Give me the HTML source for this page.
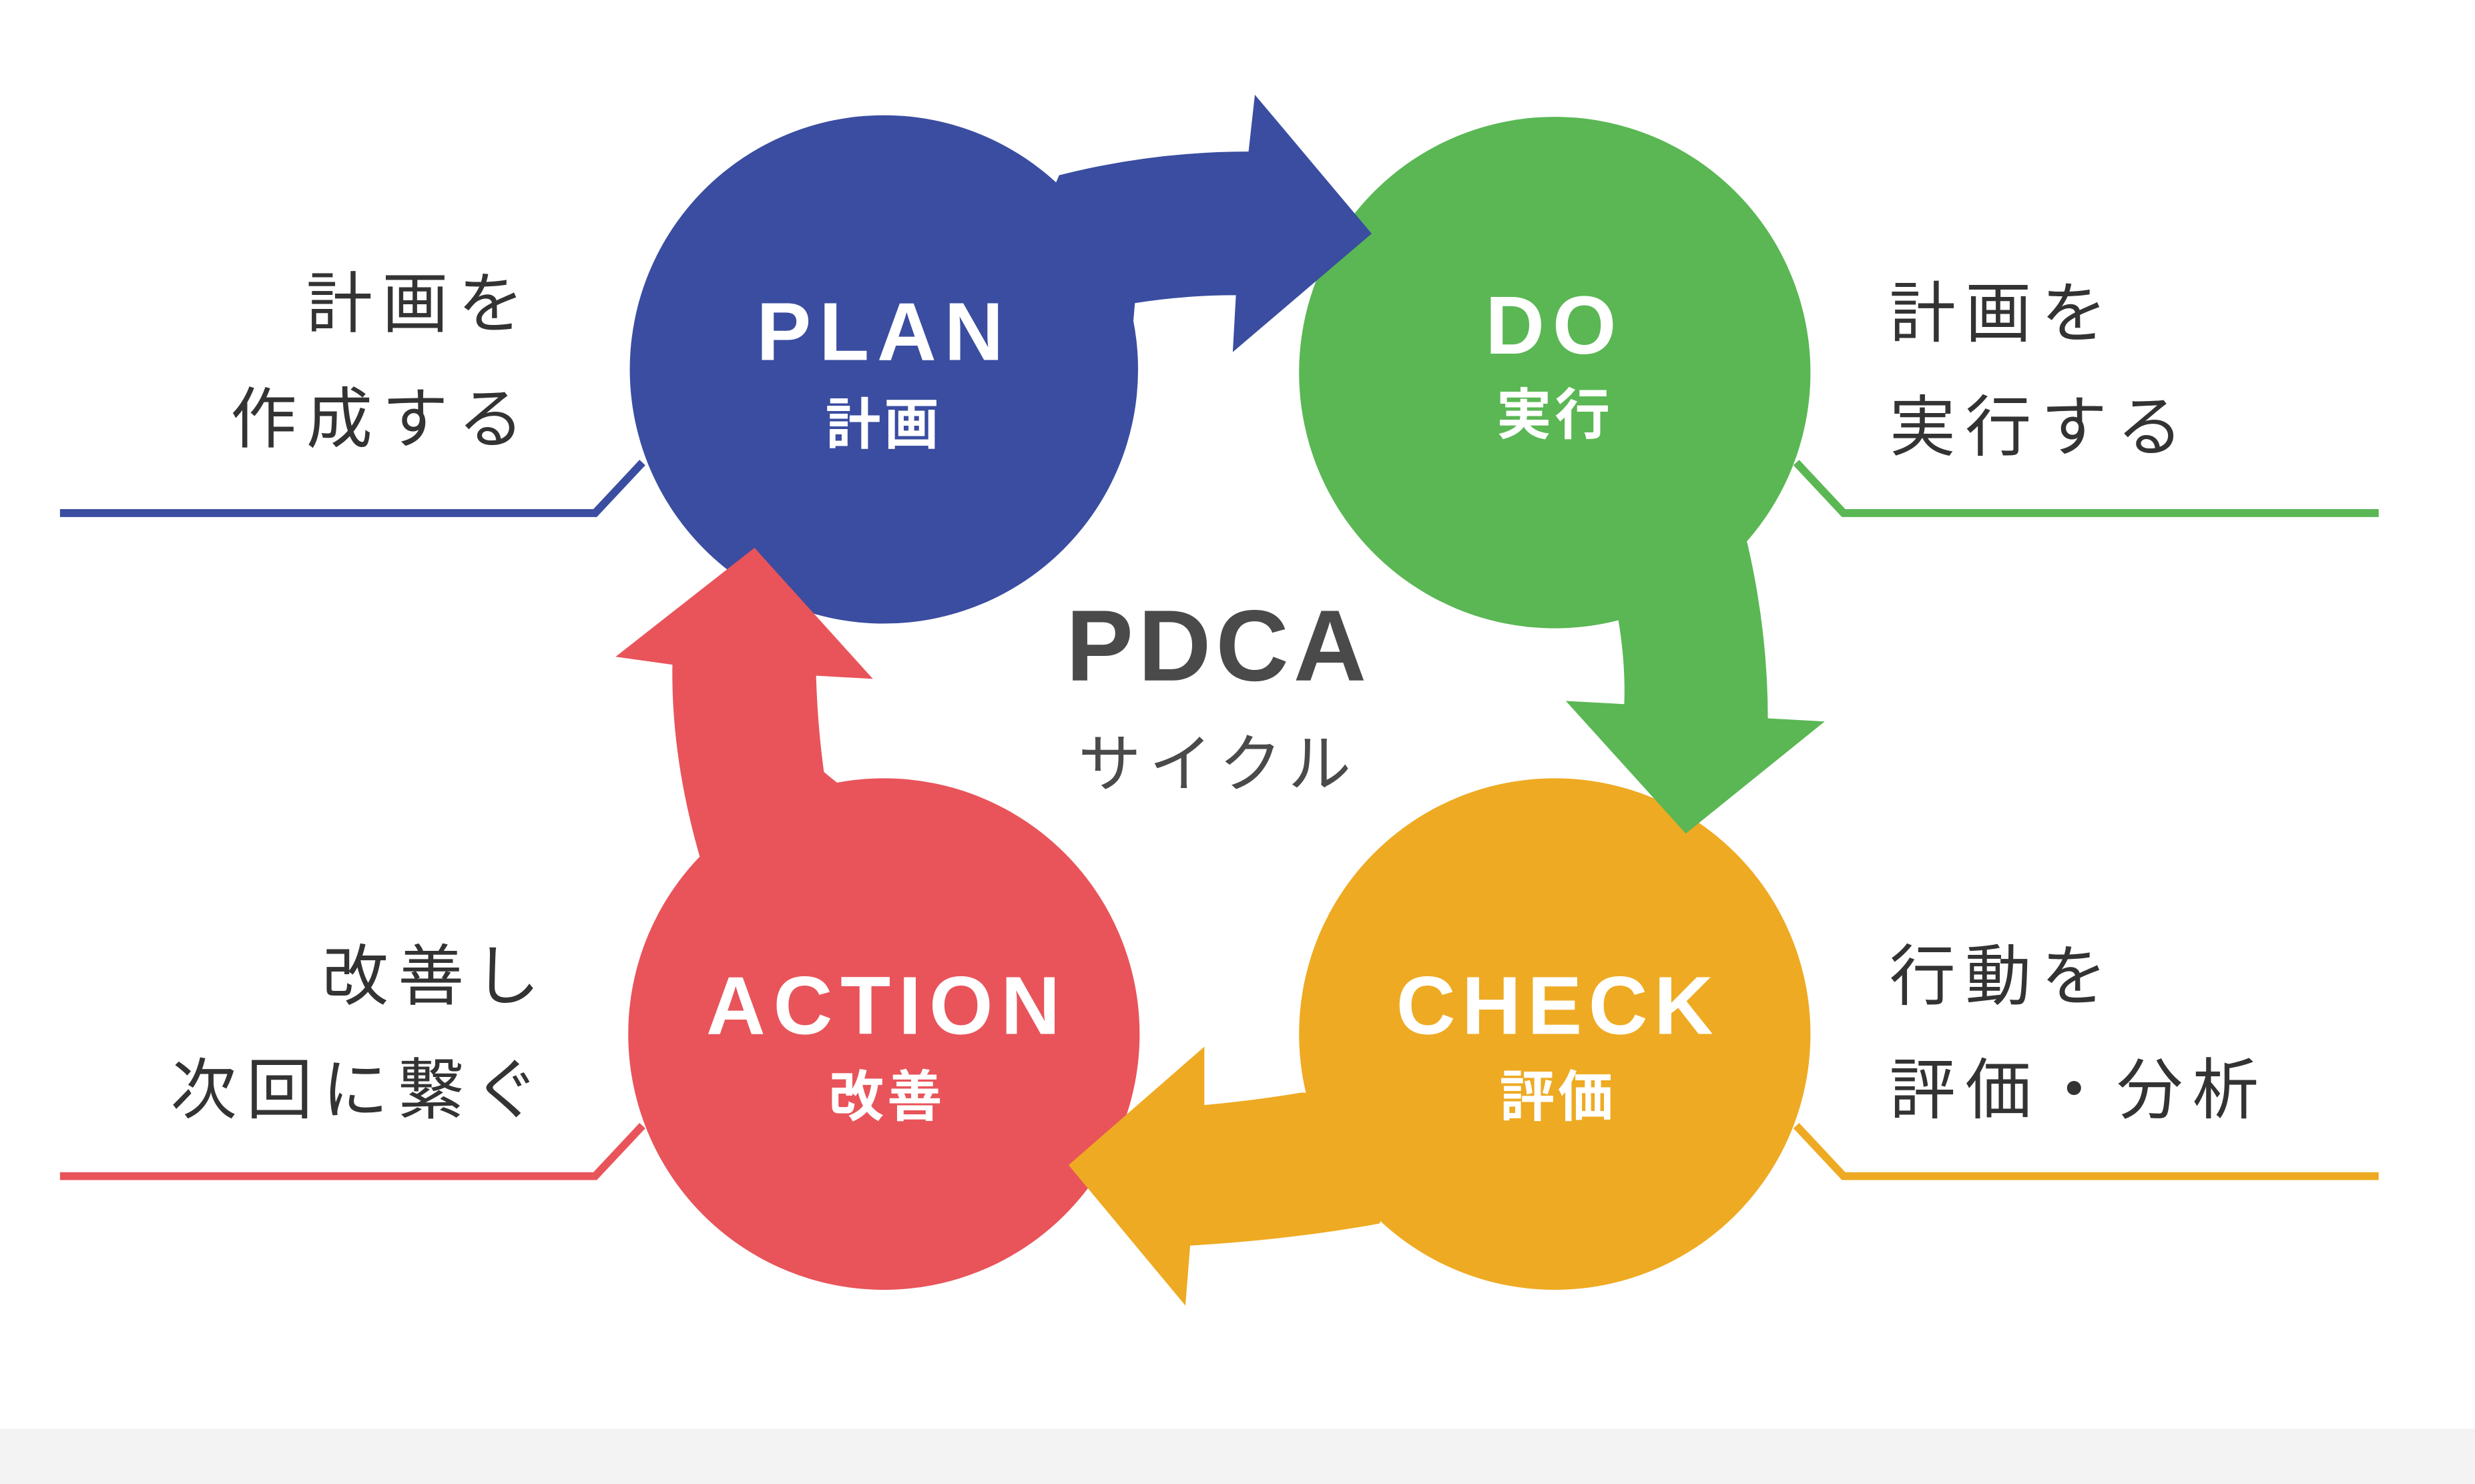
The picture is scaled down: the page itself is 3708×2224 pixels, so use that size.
<!DOCTYPE html>
<html><head><meta charset="utf-8"><style>
html,body{margin:0;padding:0;background:#fff;}
svg{display:block;}
.jp{font-family:"Liberation Sans","Noto Sans CJK JP",sans-serif;}
</style></head><body>
<svg width="3708" height="2224" viewBox="0 0 1568 940" preserveAspectRatio="none" xmlns="http://www.w3.org/2000/svg">
<rect x="0" y="0" width="1568" height="940" fill="#fff"/>
<rect x="0" y="905" width="1568" height="35" fill="#f3f3f3"/>
<g fill="none" stroke-width="5">
<polyline points="38,325 377,325 407,293" stroke="#3a4da0"/>
<polyline points="1138,293 1168,325 1507,325" stroke="#5ab754"/>
<polyline points="38,745 377,745 407,713" stroke="#e8545a"/>
<polyline points="1138,713 1168,745 1507,745" stroke="#eeaa22"/>
</g>
<circle cx="560" cy="234" r="161" fill="#3a4da0"/>
<circle cx="985" cy="236" r="162" fill="#5ab754"/>
<circle cx="560" cy="655" r="162" fill="#e8545a"/>
<circle cx="985" cy="655" r="162" fill="#eeaa22"/>
<path d="M650,160 L671,111 Q730,96 791,96 L795,60 L869,148 L781,223 L783,187 Q750,187 719,192 L714,250 Z" fill="#3a4da0"/>
<path d="M1090,300 L1107,344 Q1120,400 1120,455 L1156,457 L1068,528 L992,444 L1029,446 Q1030,420 1025,391 L960,394 Z" fill="#5ab754"/>
<path d="M900,700 L825,692 Q795,697 763,700 L763,663 L677,738 L751,827 L754,789 Q820,785 874,775 Z" fill="#eeaa22"/>
<path d="M470,590 L444,545 Q425,480 426,421 L390,416 L478,347 L553,430 L517,428 Q518,460 522,489 L560,520 Z" fill="#e8545a"/>
<g class="jp" fill="#fff" text-anchor="middle" font-weight="bold">
<text x="560" y="228" font-size="52" letter-spacing="5">PLAN</text>
<text x="560" y="281" font-size="35" letter-spacing="2">計画</text>
<text x="985" y="224" font-size="52" letter-spacing="5">DO</text>
<text x="985" y="275" font-size="35" letter-spacing="2">実行</text>
<text x="562" y="655" font-size="52" letter-spacing="5">ACTION</text>
<text x="562" y="707" font-size="35" letter-spacing="2">改善</text>
<text x="987" y="655" font-size="52" letter-spacing="4">CHECK</text>
<text x="987" y="707" font-size="35" letter-spacing="2">評価</text>
</g>
<g class="jp" fill="#4a4a4a" text-anchor="middle">
<text x="772" y="431" font-size="64" font-weight="bold" letter-spacing="3">PDCA</text>
<text x="772" y="498" font-size="40" letter-spacing="5">サイクル</text>
</g>
<g class="jp" fill="#333" font-size="42" letter-spacing="6">
<text x="338" y="207" text-anchor="end">計画を</text>
<text x="338" y="280" text-anchor="end">作成する</text>
<text x="348" y="633" text-anchor="end">改善し</text>
<text x="348" y="705" text-anchor="end">次回に繋ぐ</text>
<text x="1197" y="213">計画を</text>
<text x="1197" y="285">実行する</text>
<text x="1197" y="633">行動を</text>
<text x="1197" y="705">評価・分析</text>
</g>
</svg>
</body></html>
